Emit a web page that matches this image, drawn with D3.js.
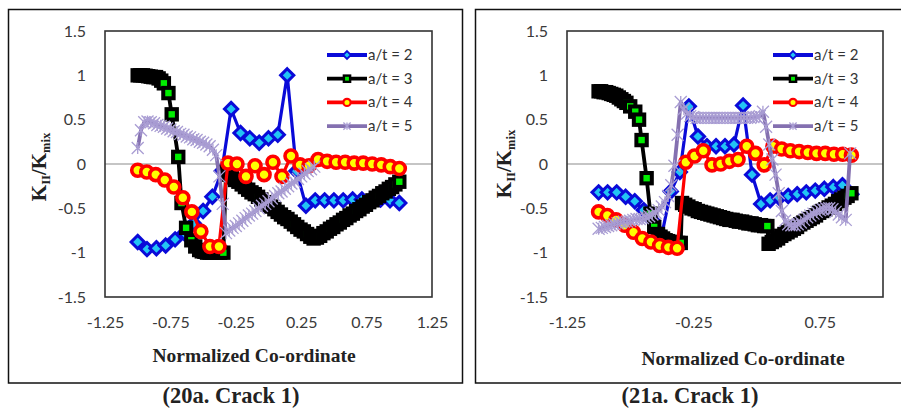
<!DOCTYPE html>
<html><head><meta charset="utf-8">
<script src="https://cdn.jsdelivr.net/npm/d3@7"></script>
<style>html,body{margin:0;padding:0;background:#fff;} svg{display:block;}</style>
</head><body>
<svg id="c" width="901" height="410"></svg>
<script>
// ---------- DATA ----------
const seriesNames = ["a/t = 2", "a/t = 3", "a/t = 4", "a/t = 5"];
const yTicks = [-1.5, -1, -0.5, 0, 0.5, 1, 1.5];
const xTicksLeft = [-1.25, -0.75, -0.25, 0.25, 0.75, 1.25];
const xTicksRight = [-1.25, -0.25, 0.75];
const captions = ["(20a. Crack 1)", "(21a. Crack 1)"];

// a/t = 2 (blue) x positions
const blueX = [-1, -0.929, -0.857, -0.786, -0.714, -0.643, -0.571, -0.5, -0.429, -0.357, -0.286, -0.214, -0.143, -0.071, 0,
  0.071, 0.143, 0.214, 0.286, 0.357, 0.429, 0.5, 0.571, 0.643, 0.714, 0.786, 0.857, 0.929, 1];
const leftBlueY = [-0.88, -0.96, -0.95, -0.92, -0.85, -0.78, -0.67, -0.53, -0.37, -0.08, 0.62, 0.35, 0.29, 0.24, 0.29,
  0.33, 1.0, -0.08, -0.47, -0.41, -0.41, -0.41, -0.41, -0.40, -0.40, -0.40, -0.40, -0.41, -0.44];
const rightBlueY = [-0.32, -0.32, -0.32, -0.37, -0.42, -0.52, -0.64, -0.80, -0.31, -0.09, 0.65, 0.31, 0.2, 0.2, 0.2,
  0.22, 0.66, -0.12, -0.45, -0.41, -0.38, -0.36, -0.34, -0.32, -0.30, -0.28, -0.26, -0.24, -0.34];

// a/t = 4 (red) x positions
const redX = [-1, -0.931, -0.862, -0.793, -0.724, -0.655, -0.586, -0.517, -0.448, -0.379, -0.31, -0.241, -0.172, -0.103, -0.034,
  0.034, 0.103, 0.172, 0.241, 0.31, 0.379, 0.448, 0.517, 0.586, 0.655, 0.724, 0.793, 0.862, 0.931, 1];
const leftRedY = [-0.07, -0.09, -0.12, -0.18, -0.26, -0.38, -0.54, -0.76, -0.93, -0.93, 0.01, 0.0, -0.14, -0.02, -0.12,
  0.02, -0.14, 0.09, -0.01, -0.02, 0.05, 0.03, 0.02, 0.02, 0.01, 0.01, 0.0, -0.01, -0.03, -0.05];
const rightRedY = [-0.54, -0.58, -0.63, -0.69, -0.77, -0.84, -0.88, -0.92, -0.94, -0.95, 0.02, 0.09, 0.15, -0.01, 0.0,
  0.03, 0.05, 0.2, 0.12, -0.01, 0.2, 0.17, 0.15, 0.14, 0.13, 0.12, 0.12, 0.11, 0.11, 0.10];

// a/t = 3 (black) left
const leftBlackX = [-1, -0.98, -0.96, -0.94, -0.92, -0.9, -0.88, -0.86, -0.84, -0.82, -0.8, -0.765, -0.74, -0.69,
  -0.665, -0.63, -0.59, -0.56, -0.53, -0.51, -0.49, -0.47, -0.45, -0.43,
  -0.41, -0.39, -0.37, -0.345, -0.325, -0.305, -0.28, -0.255, -0.23, -0.205, -0.18, -0.155, -0.13, -0.105, -0.08, -0.055,
  -0.03, -0.005, 0.02, 0.045, 0.07, 0.095, 0.12, 0.145, 0.17, 0.195, 0.22, 0.245, 0.27, 0.295, 0.32, 0.345, 0.37, 0.395,
  0.42, 0.445, 0.47, 0.495, 0.52, 0.545, 0.57, 0.595, 0.62, 0.645, 0.67, 0.695, 0.72, 0.745, 0.77, 0.795, 0.82, 0.845,
  0.87, 0.895, 0.92, 0.945, 0.97, 1.0];
const leftBlackY = [1, 1, 1, 0.995, 0.99, 0.985, 0.98, 0.98, 0.965, 0.94, 0.91, 0.80, 0.56, 0.08,
  -0.44, -0.72, -0.86, -0.93, -0.97, -0.985, -0.99, -1, -1, -1,
  -1, -1, -1, -1, -0.09, -0.12, -0.15, -0.18, -0.20, -0.23, -0.26, -0.29, -0.32, -0.34, -0.37, -0.40,
  -0.43, -0.46, -0.48, -0.51, -0.54, -0.57, -0.60, -0.62, -0.65, -0.68, -0.71, -0.74, -0.76, -0.79, -0.82, -0.84, -0.83, -0.81,
  -0.78, -0.76, -0.73, -0.71, -0.68, -0.66, -0.63, -0.61, -0.58, -0.56, -0.53, -0.51, -0.48, -0.46, -0.43, -0.41, -0.38, -0.36,
  -0.33, -0.31, -0.28, -0.26, -0.23, -0.20];

// a/t = 3 (black) right
const rightBlackX = [-1, -0.98, -0.96, -0.94, -0.92, -0.9, -0.88, -0.86, -0.84, -0.82, -0.8, -0.78, -0.75, -0.71,
  -0.68, -0.66, -0.62, -0.59, -0.56, -0.53, -0.51, -0.49, -0.47, -0.45, -0.43,
  -0.41, -0.39, -0.37, -0.35, -0.34, -0.315, -0.29, -0.265, -0.24, -0.215, -0.19, -0.165, -0.14, -0.115, -0.09, -0.065,
  -0.04, -0.015, 0.01, 0.035, 0.06, 0.085, 0.11, 0.135, 0.16, 0.185, 0.21, 0.235, 0.26, 0.285, 0.31, 0.335, 0.345, 0.37,
  0.395, 0.42, 0.445, 0.47, 0.495, 0.52, 0.545, 0.57, 0.595, 0.62, 0.645, 0.67, 0.695, 0.72, 0.745, 0.77, 0.795, 0.82,
  0.845, 0.87, 0.895, 0.92, 0.945, 0.97, 1.0];
const rightBlackY = [0.82, 0.82, 0.81, 0.81, 0.80, 0.79, 0.78, 0.77, 0.75, 0.73, 0.71, 0.69, 0.65, 0.59,
  0.50, 0.27, -0.16, -0.56, -0.71, -0.79, -0.82, -0.84, -0.86, -0.87, -0.88,
  -0.88, -0.89, -0.89, -0.89, -0.44, -0.46, -0.48, -0.50, -0.51, -0.53, -0.54, -0.55, -0.56, -0.57, -0.58, -0.59,
  -0.60, -0.61, -0.62, -0.63, -0.63, -0.64, -0.65, -0.65, -0.66, -0.67, -0.67, -0.68, -0.69, -0.69, -0.70, -0.70, -0.90, -0.88,
  -0.86, -0.84, -0.81, -0.79, -0.77, -0.75, -0.73, -0.71, -0.68, -0.66, -0.64, -0.62, -0.60, -0.58, -0.55, -0.53, -0.51, -0.49,
  -0.47, -0.45, -0.42, -0.40, -0.38, -0.36, -0.33];

// a/t = 5 (purple) left
const leftPurpleX = [-1, -0.975, -0.95, -0.925, -0.9, -0.875, -0.85, -0.825, -0.8, -0.775, -0.75, -0.725, -0.7, -0.675, -0.65,
  -0.625, -0.6, -0.575, -0.55, -0.525, -0.5, -0.475, -0.45, -0.425, -0.4, -0.375, -0.35, -0.325, -0.3, -0.275, -0.25,
  -0.225, -0.2, -0.175, -0.15, -0.125, -0.1, -0.075, -0.05, -0.025, 0, 0.025, 0.05, 0.075, 0.1, 0.125, 0.15, 0.175, 0.2,
  0.225, 0.25, 0.275, 0.3, 0.325, 0.35];
const leftPurpleY = [0.18, 0.38, 0.47, 0.48, 0.47, 0.46, 0.44, 0.43, 0.42, 0.40, 0.39, 0.37, 0.36, 0.34, 0.33,
  0.31, 0.30, 0.28, 0.27, 0.25, 0.24, 0.22, 0.20, 0.16, 0.10, -0.14, -0.45, -0.78, -0.75, -0.72, -0.70,
  -0.67, -0.64, -0.61, -0.58, -0.56, -0.53, -0.50, -0.47, -0.45, -0.42, -0.39, -0.36, -0.33, -0.31, -0.28, -0.25, -0.22, -0.20,
  -0.17, -0.14, -0.11, -0.08, -0.06, -0.03];

// a/t = 5 (purple) right
const rightPurpleX = [-1, -0.975, -0.95, -0.925, -0.9, -0.875, -0.85, -0.825, -0.8, -0.775, -0.75, -0.725, -0.7, -0.675, -0.65,
  -0.625, -0.6, -0.575, -0.55, -0.525, -0.5, -0.475, -0.45, -0.425, -0.4, -0.375, -0.35, -0.325, -0.3, -0.275, -0.25,
  -0.225, -0.2, -0.175, -0.15, -0.125, -0.1, -0.075, -0.05, -0.025, 0, 0.025, 0.05, 0.075, 0.1, 0.125, 0.15, 0.175, 0.2,
  0.225, 0.25, 0.275, 0.3, 0.325, 0.35, 0.375, 0.4, 0.425, 0.45, 0.475, 0.5, 0.525, 0.55, 0.575, 0.6, 0.625, 0.65, 0.675,
  0.7, 0.725, 0.75, 0.775, 0.8, 0.825, 0.85, 0.875, 0.9, 0.925, 0.955, 0.99];
const rightPurpleY = [-0.73, -0.72, -0.71, -0.70, -0.69, -0.68, -0.67, -0.66, -0.65, -0.65, -0.64, -0.63, -0.62, -0.62, -0.61,
  -0.60, -0.59, -0.57, -0.55, -0.52, -0.48, -0.43, -0.36, -0.24, -0.02, 0.33, 0.70, 0.62, 0.57, 0.54, 0.53,
  0.52, 0.52, 0.52, 0.52, 0.52, 0.52, 0.52, 0.52, 0.52, 0.52, 0.52, 0.52, 0.52, 0.52, 0.52, 0.52, 0.52, 0.52,
  0.53, 0.53, 0.54, 0.59, 0.42, 0.22, 0.05, -0.12, -0.33, -0.53, -0.64, -0.68, -0.69, -0.69, -0.68, -0.66, -0.63, -0.60, -0.58,
  -0.56, -0.54, -0.52, -0.51, -0.50, -0.50, -0.51, -0.54, -0.57, -0.60, -0.63, 0.12];

// ---------- DRAWING ----------
const svg = d3.select("#c");
svg.append("rect").attr("width", 901).attr("height", 410).attr("fill", "#fff");

const styles = [
  { line: "#0a0ad8", lw: 3.2, marker: "diamond" },
  { line: "#000000", lw: 3.8, marker: "square" },
  { line: "#ff0000", lw: 3.2, marker: "circle" },
  { line: "#8470b0", lw: 3.8, marker: "star" }
];

function drawMarker(sel, type, big) {
  const s = big ? 1 : 0.6;
  if (type === "diamond") {
    const r = 6.6 * s;
    sel.append("path").attr("d", `M0,${-r}L${r},0L0,${r}L${-r},0Z`)
      .attr("fill", "#22c4f4").attr("stroke", "#0a0ad8").attr("stroke-width", 3 * s);
  } else if (type === "square") {
    const r = 5.2 * s;
    sel.append("rect").attr("x", -r).attr("y", -r).attr("width", 2 * r).attr("height", 2 * r)
      .attr("fill", "#00ee00").attr("stroke", "#000").attr("stroke-width", 4 * s);
  } else if (type === "circle") {
    sel.append("circle").attr("r", 6 * s).attr("fill", "#ffff00").attr("stroke", "#ff0000").attr("stroke-width", 3.6 * s);
  } else {
    const r = 6 * s;
    sel.append("path").attr("d", `M${-r},${-r}L${r},${r}M${-r},${r}L${r},${-r}M0,${-r}L0,${r}`)
      .attr("fill", "none").attr("stroke", "#a99dd3").attr("stroke-width", 1.3);
  }
}

function drawPanel(o) {
  const g = svg.append("g");
  // outer panel border
  g.append("rect").attr("x", o.px).attr("y", 9.5).attr("width", o.pw).attr("height", 373.5)
    .attr("fill", "none").attr("stroke", "#111").attr("stroke-width", 1.5);

  const x = d3.scaleLinear().domain([-1.25, 1.25]).range([o.left, o.right]);
  const y = d3.scaleLinear().domain([-1.5, 1.5]).range([o.bottom, o.top]);

  // zero line
  g.append("line").attr("x1", o.left).attr("x2", o.right).attr("y1", y(0)).attr("y2", y(0))
    .attr("stroke", "#8c8c8c").attr("stroke-width", 1.2);

  // axes
  const ya = g.append("g").attr("transform", `translate(${o.left},0)`)
    .call(d3.axisLeft(y).tickValues(yTicks).tickSize(0).tickPadding(19).tickFormat(d => String(d)));
  ya.select(".domain").remove();
  ya.selectAll("text").attr("font-family", "Lato").attr("font-size", 16).attr("fill", "#3a3a3a");

  const xa = g.append("g").attr("transform", `translate(0,${o.bottom})`)
    .call(d3.axisBottom(x).tickValues(o.xTicks).tickSize(0).tickPadding(20).tickFormat(d => String(d)));
  xa.select(".domain").remove();
  xa.selectAll("text").attr("font-family", "Lato").attr("font-size", 16).attr("fill", "#3a3a3a");

  // series
  o.series.forEach((s, i) => {
    const st = styles[i];
    const pts = s.x.map((v, k) => [v, s.y[k]]);
    const sg = g.append("g");
    sg.append("path").attr("d", d3.line().x(d => x(d[0])).y(d => y(d[1]))(pts))
      .attr("fill", "none").attr("stroke", st.line).attr("stroke-width", st.lw).attr("stroke-linejoin", "round");
    pts.forEach(d => {
      const m = sg.append("g").attr("transform", `translate(${x(d[0])},${y(d[1])})`);
      drawMarker(m, st.marker, true);
    });
  });

  // plot frame
  g.append("rect").attr("x", o.left).attr("y", o.top).attr("width", o.right - o.left).attr("height", o.bottom - o.top)
    .attr("fill", "none").attr("stroke", "#333").attr("stroke-width", 1.6);

  // legend
  seriesNames.forEach((name, i) => {
    const st = styles[i];
    const ly = 55 + i * 23.7;
    const lg = g.append("g");
    lg.append("line").attr("x1", o.legX).attr("x2", o.legX + 40).attr("y1", ly).attr("y2", ly)
      .attr("stroke", st.line).attr("stroke-width", 3.8);
    const m = lg.append("g").attr("transform", `translate(${o.legX + 20},${ly})`);
    drawMarker(m, st.marker, false);
    lg.append("text").attr("x", o.legX + 41).attr("y", ly + 5).text(name)
      .attr("font-family", "Lato").attr("font-size", 15).attr("fill", "#333");
  });

  // y title
  const yt = g.append("text").attr("transform", `translate(${o.ytX},${o.ytY}) rotate(-90)`)
    .attr("text-anchor", "middle").attr("font-family", "Liberation Serif").attr("font-weight", "bold")
    .attr("font-size", 21).attr("fill", "#222");
  yt.append("tspan").text("K");
  yt.append("tspan").attr("font-size", 12.5).attr("dy", 4).text("II");
  yt.append("tspan").attr("dy", -4).text("/K");
  yt.append("tspan").attr("font-size", 12.5).attr("dy", 4).text("mix");

  // x title
  g.append("text").attr("x", o.xtX).attr("y", o.xtY).attr("text-anchor", "middle")
    .attr("font-family", "Liberation Serif").attr("font-weight", "bold").attr("font-size", 19.5).attr("fill", "#222")
    .text("Normalized Co-ordinate");

  // caption
  g.append("text").attr("x", o.capX).attr("y", 403).attr("text-anchor", "middle")
    .attr("font-family", "Liberation Serif").attr("font-weight", "bold").attr("font-size", 22.5).attr("fill", "#222")
    .text(o.caption);
}

drawPanel({
  px: 8.5, pw: 454, left: 105, right: 432, top: 31, bottom: 297, xTicks: xTicksLeft,
  legX: 327, ytX: 46, ytY: 167, xtX: 254, xtY: 362, capX: 231, caption: captions[0],
  series: [
    { x: blueX, y: leftBlueY }, { x: leftBlackX, y: leftBlackY },
    { x: redX, y: leftRedY }, { x: leftPurpleX, y: leftPurpleY }
  ]
});
drawPanel({
  px: 475.5, pw: 440, left: 567, right: 883, top: 31, bottom: 297, xTicks: xTicksRight,
  legX: 773, ytX: 511, ytY: 164, xtX: 743, xtY: 365, capX: 690, caption: captions[1],
  series: [
    { x: blueX, y: rightBlueY }, { x: rightBlackX, y: rightBlackY },
    { x: redX, y: rightRedY }, { x: rightPurpleX, y: rightPurpleY }
  ]
});
</script>
</body></html>
